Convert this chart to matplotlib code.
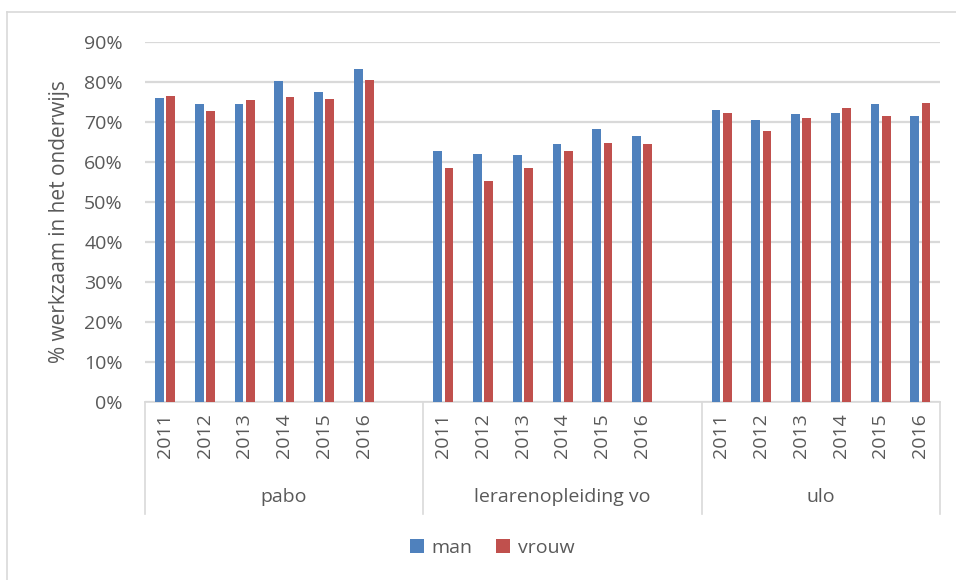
import numpy as np
import matplotlib
matplotlib.use("Agg")
import matplotlib.pyplot as plt
from matplotlib.lines import Line2D
from matplotlib.ticker import FuncFormatter
import matplotlib.transforms as mtransforms

plt.rcParams['font.family'] = ['Open Sans', 'DejaVu Sans']

# Data
groups = ["pabo", "lerarenopleiding vo", "ulo"]
years = ["2011", "2012", "2013", "2014", "2015", "2016"]
man = [
    [76.0, 74.6, 74.6, 80.3, 77.6, 83.3],   # pabo
    [62.8, 62.1, 61.8, 64.6, 68.3, 66.5],   # lerarenopleiding vo
    [73.1, 70.5, 72.1, 72.2, 74.5, 71.5],   # ulo
]
vrouw = [
    [76.5, 72.8, 75.6, 76.3, 75.8, 80.6],
    [58.6, 55.3, 58.6, 62.8, 64.8, 64.6],
    [72.3, 67.8, 71.1, 73.6, 71.6, 74.7],
]

TEXT = "#595959"
GRID = "#D9D9D9"
BLUE = "#4F81BD"
RED = "#C0504D"

fig = plt.figure(figsize=(9.56, 5.8), dpi=100)
ax = fig.add_axes([145 / 956, 1 - 402 / 580, 795 / 956, 360 / 580])

# Excel-like layout: each group has 6 years + one empty slot (except the last)
positions = []
start = 0
for g in range(len(groups)):
    positions.append(np.arange(start, start + len(years)))
    start += len(years) + 1
n_slots = start - 1

w = 0.22
for g in range(len(groups)):
    x = positions[g]
    ax.bar(x - 0.135, np.array(man[g]) / 100, width=w, color=BLUE, zorder=3,
           label="man" if g == 0 else None)
    ax.bar(x + 0.145, np.array(vrouw[g]) / 100, width=w, color=RED, zorder=3,
           label="vrouw" if g == 0 else None)

ax.set_xlim(-0.5, n_slots - 0.5)
ax.set_ylim(0, 0.9)
ax.set_yticks(np.arange(0, 0.91, 0.1))
ax.yaxis.set_major_formatter(FuncFormatter(lambda v, p: f"{v * 100:.0f}%"))
ax.grid(axis="y", color=GRID, linewidth=1.6, zorder=0)
for s in ["top", "right", "left"]:
    ax.spines[s].set_visible(False)
ax.spines["bottom"].set_color(GRID)
ax.spines["bottom"].set_linewidth(1.2)

all_pos = np.concatenate(positions)
ax.set_xticks(all_pos)
ax.set_xticklabels(years * len(groups), rotation=90)
ax.tick_params(axis="x", length=0, pad=8, labelsize=14, labelcolor=TEXT)
ax.tick_params(axis="y", length=0, pad=16, labelsize=14, labelcolor=TEXT)

ax.set_ylabel("% werkzaam in het onderwijs", fontsize=15, color=TEXT, labelpad=10)

# group separators and group labels
trans = mtransforms.blended_transform_factory(ax.transData, ax.transAxes)
bounds = [-0.5]
for g in range(len(groups)):
    bounds.append(positions[g][-1] + 0.5 if g == len(groups) - 1 else positions[g][-1] + 1.5)
for b in bounds:
    ax.plot([b, b], [0, -0.31], transform=trans, color=GRID, linewidth=1.2, clip_on=False)
for g in range(len(groups)):
    cx = (bounds[g] + bounds[g + 1]) / 2
    ax.text(cx, -0.264, groups[g], transform=trans, ha="center", va="center",
            fontsize=14, color=TEXT)

fig.legend(loc="center", bbox_to_anchor=(0.515, 1 - 548 / 580), ncol=2, frameon=False,
           fontsize=14, labelcolor=TEXT, handlelength=0.7, handleheight=0.7,
           handletextpad=0.4, columnspacing=1.2)

# chart border (top and left visible)
fig.add_artist(Line2D([7 / 956, 1], [1 - 12 / 580, 1 - 12 / 580], color=GRID, linewidth=1.2))
fig.add_artist(Line2D([7 / 956, 7 / 956], [0, 1 - 12 / 580], color=GRID, linewidth=1.2))

fig.savefig("out.png", dpi=100, facecolor="white")
